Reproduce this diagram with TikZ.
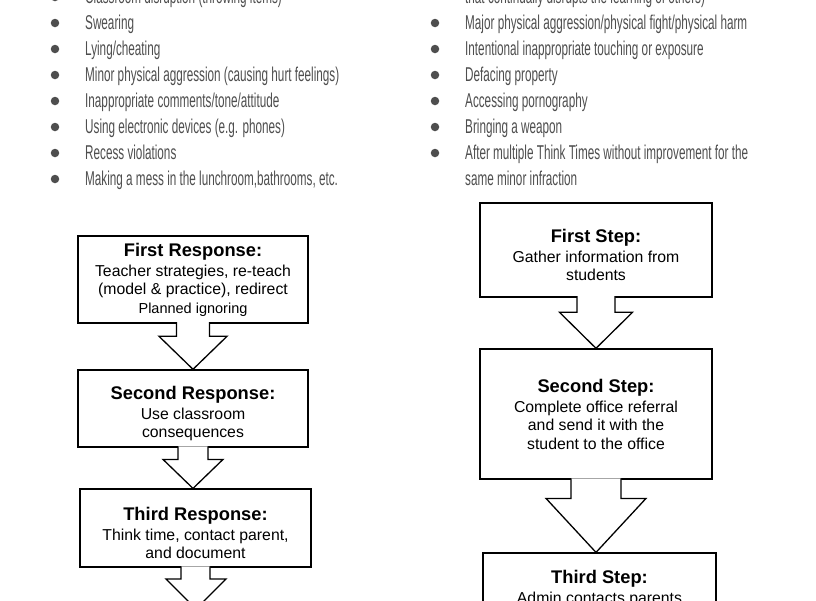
\documentclass[tikz,border=0pt]{standalone}
\usepackage{fontspec}
\setmainfont{Liberation Sans}
\newfontfamily\listfont[FakeStretch=0.586]{Liberation Sans}
\usetikzlibrary{positioning, calc}
\definecolor{listgray}{HTML}{4E4E4E}
\newcommand{\head}[2][0pt]{\rule{0pt}{\dimexpr 13.3pt+#1\relax}{\bfseries\fontsize{18.3}{20}\selectfont #2}\\[1.5pt]}

\begin{document}
\begin{tikzpicture}[
        x=1pt, y=-1pt,
        item/.style={anchor=base west, inner sep=0pt, text=listgray, font=\listfont\fontsize{20}{26}\selectfont},
        dot/.style={circle, fill=listgray, minimum size=8.5pt, inner sep=0pt},
        box/.style={draw, line width=1.6pt, fill=white, align=center, minimum width=230pt, inner sep=2pt, font=\fontsize{15.8}{18.5}\selectfont},
        flow/.style={line width=1.3pt, fill=white, line join=miter}
    ]

    \useasboundingbox (0,0) rectangle (816,600);
    \clip (0,0) rectangle (816,600);

    % Left list
    \node[dot] (ld0) at (55,-3) {};
    \node[item] (l0) at (85,3) {Classroom disruption (throwing items)};
    \node[dot] (ld1) at (55,23) {};
    \node[item] (l1) at (85,29) {Swearing};
    \node[dot] (ld2) at (55,49) {};
    \node[item] (l2) at (85,55) {Lying/cheating};
    \node[dot] (ld3) at (55,75) {};
    \node[item] (l3) at (85,81) {Minor physical aggression (causing hurt feelings)};
    \node[dot] (ld4) at (55,101) {};
    \node[item] (l4) at (85,107) {Inappropriate comments/tone/attitude};
    \node[dot] (ld5) at (55,127) {};
    \node[item] (l5) at (85,133) {Using electronic devices (e.g. phones)};
    \node[dot] (ld6) at (55,153) {};
    \node[item] (l6) at (85,159) {Recess violations};
    \node[dot] (ld7) at (55,179) {};
    \node[item] (l7) at (85,185) {Making a mess in the lunchroom,bathrooms, etc.};

    % Right list
    \node[item] (r0) at (465,3) {that continually disrupts the learning of others)};
    \node[dot] (rd1) at (435,23) {};
    \node[item] (ri1) at (465,29) {Major physical aggression/physical fight/physical harm};
    \node[dot] (rd2) at (435,49) {};
    \node[item] (ri2) at (465,55) {Intentional inappropriate touching or exposure};
    \node[dot] (rd3) at (435,75) {};
    \node[item] (ri3) at (465,81) {Defacing property};
    \node[dot] (rd4) at (435,101) {};
    \node[item] (ri4) at (465,107) {Accessing pornography};
    \node[dot] (rd5) at (435,127) {};
    \node[item] (ri5) at (465,133) {Bringing a weapon};
    \node[dot] (rd6) at (435,153) {};
    \node[item] (ri6) at (465,159) {After multiple Think Times without improvement for the};
    \node[item] (ri6b) at (465,185) {same minor infraction};

    % Responses (left column)
    \node[box, minimum height=87pt] (resp1) at (193,279.5) {\head{First Response:}Teacher strategies, re-teach\\(model \& practice), redirect\\{\fontsize{14.5}{18.5}\selectfont Planned ignoring}};
    \node[box, minimum height=77pt, below=45.5pt of resp1] (resp2) {\head[10pt]{Second Response:}Use classroom\\consequences};
    \node[box, minimum width=231pt, minimum height=78pt, below=40.5pt of resp2, xshift=2.5pt] (resp3) {\head[9pt]{Third Response:}Think time, contact parent,\\and document};

    % Steps (right column)
    \node[box, minimum width=232pt, minimum height=94pt] (step1) at (596,250) {\head[9.4pt]{First Step:}Gather information from\\students};
    \node[box, minimum width=232pt, minimum height=130pt, below=50.5pt of step1] (step2) {\head{Second Step:}Complete office referral\\and send it with the\\student to the office};
    \node[box, minimum width=233pt, minimum height=70.6pt, below=72.5pt of step2, xshift=3.5pt] (step3) {\head{Third Step:}Admin contacts parents};

    % Block arrows
    \draw[flow] ($(resp1.south)+(-16.5,-1.6)$) |- ($(resp2.north)+(-34,-33)$) -- (resp2.north) -- ($(resp2.north)+(34,-33)$) -| ($(resp1.south)+(16.5,-1.6)$);
    \draw[flow] ($(resp2.south)+(-15,-1.6)$) |- ($(resp2.south |- resp3.north)+(-30,-29)$) -- (resp2.south |- resp3.north) -- ($(resp2.south |- resp3.north)+(30,-29)$) -| ($(resp2.south)+(15,-1.6)$);
    \coordinate (tip3) at ($(resp3.south)+(0.5,41)$);
    \draw[flow] ($(resp3.south)+(-14.5,-1.6)$) |- ($(tip3)+(-30,-30)$) -- (tip3) -- ($(tip3)+(30,-30)$) -| ($(resp3.south)+(14.5,-1.6)$);
    \draw[flow] ($(step1.south)+(-19,-1.6)$) |- ($(step2.north)+(-36.5,-36)$) -- (step2.north) -- ($(step2.north)+(36.5,-36)$) -| ($(step1.south)+(19,-1.6)$);
    \draw[flow] ($(step2.south)+(-25,-1.6)$) |- ($(step2.south |- step3.north)+(-50,-54)$) -- (step2.south |- step3.north) -- ($(step2.south |- step3.north)+(50,-54)$) -| ($(step2.south)+(25,-1.6)$);

\end{tikzpicture}
\end{document}
